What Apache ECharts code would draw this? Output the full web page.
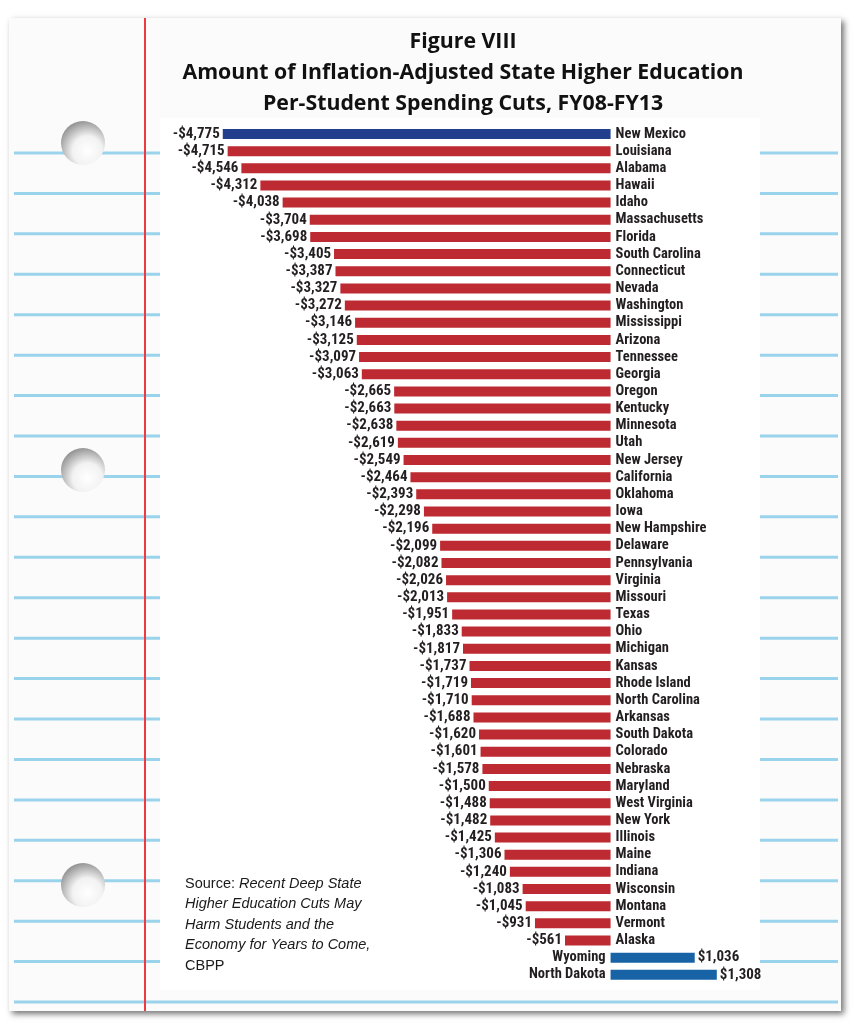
<!DOCTYPE html>
<html>
<head>
<meta charset="utf-8">
<script src="https://cdn.jsdelivr.net/npm/echarts@6/dist/echarts.min.js"></script>
<style>
html,body{margin:0;padding:0;background:#fff;}
#c{width:854px;height:1024px;}
</style>
</head>
<body>
<div id="c"></div>
<script>
const states = ["New Mexico","Louisiana","Alabama","Hawaii","Idaho","Massachusetts","Florida","South Carolina","Connecticut","Nevada","Washington","Mississippi","Arizona","Tennessee","Georgia","Oregon","Kentucky","Minnesota","Utah","New Jersey","California","Oklahoma","Iowa","New Hampshire","Delaware","Pennsylvania","Virginia","Missouri","Texas","Ohio","Michigan","Kansas","Rhode Island","North Carolina","Arkansas","South Dakota","Colorado","Nebraska","Maryland","West Virginia","New York","Illinois","Maine","Indiana","Wisconsin","Montana","Vermont","Alaska","Wyoming","North Dakota"];
const values = [-4775,-4715,-4546,-4312,-4038,-3704,-3698,-3405,-3387,-3327,-3272,-3146,-3125,-3097,-3063,-2665,-2663,-2638,-2619,-2549,-2464,-2393,-2298,-2196,-2099,-2082,-2026,-2013,-1951,-1833,-1817,-1737,-1719,-1710,-1688,-1620,-1601,-1578,-1500,-1488,-1482,-1425,-1306,-1240,-1083,-1045,-931,-561,1036,1308];
const titleLines = ["Figure VIII","Amount of Inflation-Adjusted State Higher Education","Per-Student Spending Cuts, FY08-FY13"];

const LABEL_FONT = "'Liberation Sans Narrow','Arial Narrow','Roboto Condensed','Noto Sans Condensed','Open Sans Condensed',Lato,sans-serif";
const RED = '#bd2a31', NAVY = '#223f8e', BLUE = '#1763a6';

function fmt(v){
  const s = '$' + Math.abs(v).toLocaleString('en-US');
  return v < 0 ? '-' + s : s;
}
function barColor(i, v){
  if (v > 0) return BLUE;
  if (i === 0) return NAVY;
  return RED;
}

const chart = echarts.init(document.getElementById('c'), null, {renderer:'canvas'});

// decorative notebook paper
const graphics = [];
graphics.push({type:'rect', z:-20, shape:{x:9,y:18,width:832,height:993},
  style:{fill:'#fbfbfb', shadowBlur:6, shadowColor:'rgba(0,0,0,0.55)', shadowOffsetX:3, shadowOffsetY:3}});
graphics.push({type:'rect', z:-19, shape:{x:160,y:118,width:600,height:872}, style:{fill:'#ffffff'}});
for (let k = 0; k <= 21; k++) {
  const y = 153 + 40.43*k;
  if (k === 21) {
    graphics.push({type:'line', z:-18, shape:{x1:14,y1:y,x2:838,y2:y}, style:{stroke:'#9ad3ec', lineWidth:3}});
  } else {
    graphics.push({type:'line', z:-18, shape:{x1:14,y1:y,x2:160,y2:y}, style:{stroke:'#9ad3ec', lineWidth:3}});
    graphics.push({type:'line', z:-18, shape:{x1:760,y1:y,x2:838,y2:y}, style:{stroke:'#9ad3ec', lineWidth:3}});
  }
}
graphics.push({type:'line', z:-17, shape:{x1:145,y1:18,x2:145,y2:1011}, style:{stroke:'#ec3a42', lineWidth:2}});
[143, 470, 885].forEach(cy => {
  graphics.push({type:'circle', z:-16, shape:{cx:83, cy:cy, r:22},
    style:{fill:{type:'radial', x:0.6, y:0.68, r:0.75, colorStops:[{offset:0,color:'#ffffff'},{offset:0.45,color:'#f2f2f2'},{offset:1,color:'#858585'}]}}});
});
// source note
graphics.push({type:'text', z:50, left:185, top:876, style:{
  text:'{n|Source: }{i|Recent Deep State}\n{i|Higher Education Cuts May}\n{i|Harm Students and the}\n{i|Economy for Years to Come,}\n{n|CBPP}',
  rich:{
    n:{fontFamily:"'Liberation Sans',Arial,sans-serif", fontSize:14.5, lineHeight:20.5, fill:'#1a1a1a'},
    i:{fontFamily:"'Liberation Sans',Arial,sans-serif", fontSize:14.5, fontStyle:'italic', lineHeight:20.5, fill:'#1a1a1a'}
  }
}});

const barData = values.map((v,i) => ({
  value: v,
  itemStyle:{color: barColor(i, v)},
  label:{position: v < 0 ? 'left' : 'right'}
}));
const nameData = values.map((v,i) => ({
  value: v,
  label:{position: v < 0 ? 'right' : 'left'}
}));

chart.setOption({
  animation:false,
  backgroundColor:'#ffffff',
  title:{
    text: titleLines.join('\n'),
    left: 458, textAlign:'center', top: 21,
    textStyle:{fontFamily:"'Open Sans',Lato,sans-serif", fontWeight:'bold', fontSize:21.3, lineHeight:31, color:'#111'}
  },
  graphic: graphics,
  grid:{left:204.5, right:81, top:125.4, height:858, containLabel:false},
  xAxis:{type:'value', min:-5000, max:2000, show:false, splitLine:{show:false}},
  yAxis:{type:'category', data:states, inverse:true, show:false},
  series:[
    {
      type:'bar', data: barData, barWidth:10, barGap:'-100%', z:3,
      label:{show:true, distance:3, formatter: p => fmt(p.value),
        fontFamily: LABEL_FONT, fontSize:15, fontWeight:'bold', color:'#231f20'}
    },
    {
      type:'bar', data: nameData, barWidth:10, barGap:'-100%', z:4,
      itemStyle:{color:'rgba(0,0,0,0)'},
      label:{show:true, distance:5, formatter: p => p.name,
        fontFamily: LABEL_FONT, fontSize:14.5, fontWeight:'bold', color:'#231f20'}
    }
  ]
});
</script>
</body>
</html>
